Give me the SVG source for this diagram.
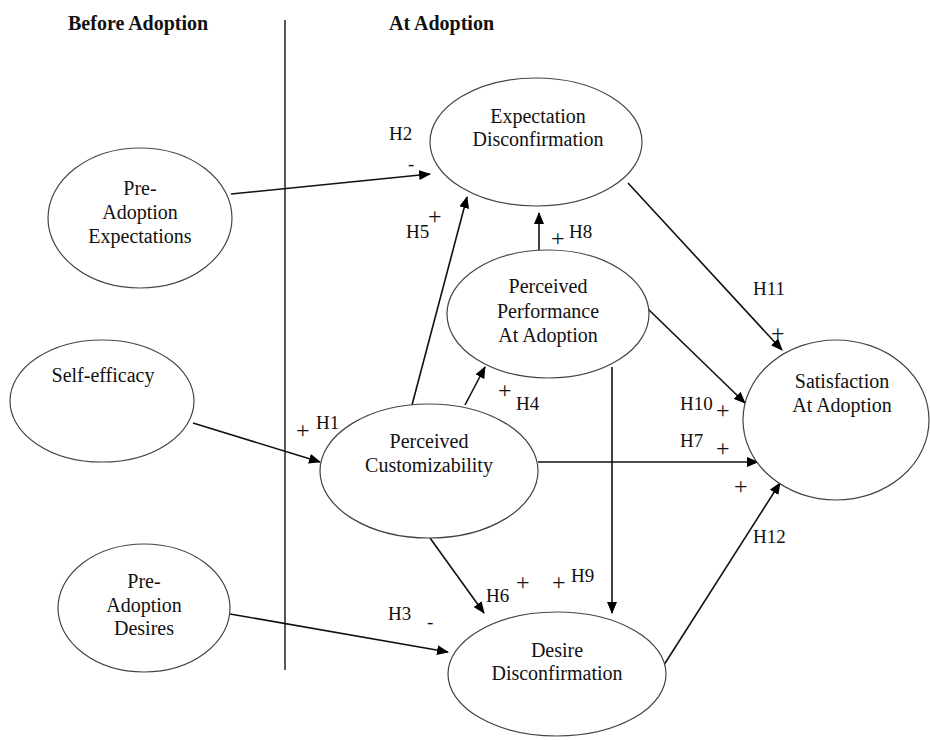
<svg xmlns="http://www.w3.org/2000/svg" width="930" height="740" viewBox="0 0 930 740">
<style>
text{font-family:"Liberation Serif","Times New Roman",serif;fill:#111}
.t{font-size:20px;text-anchor:middle}
.h{font-size:20px;font-weight:bold}
.l{font-size:19px}
.s{font-size:24px}
ellipse{fill:#fff;stroke:#444;stroke-width:1.2}
.c line{stroke:#111;stroke-width:1.6}
</style>
<defs>
<marker id="a" viewBox="0 0 12 10" refX="11" refY="5" markerWidth="12" markerHeight="10" markerUnits="userSpaceOnUse" orient="auto">
<path d="M0,0 L12,5 L0,10 Z" fill="#000"/>
</marker>
</defs>
<rect width="930" height="740" fill="#fff"/>
<text class="h" x="68" y="30">Before Adoption</text>
<text class="h" x="389" y="30">At Adoption</text>
<line x1="285" y1="20" x2="285" y2="670" stroke="#111" stroke-width="1.4"/>

<g class="c" id="connectors">
<line x1="231" y1="194" x2="430" y2="174" marker-end="url(#a)"/>
<line x1="193" y1="423" x2="320" y2="462" marker-end="url(#a)"/>
<line x1="230" y1="614" x2="448" y2="652" marker-end="url(#a)"/>
<line x1="412" y1="405" x2="467" y2="197" marker-end="url(#a)"/>
<line x1="539" y1="251" x2="539" y2="213" marker-end="url(#a)"/>
<line x1="465" y1="405" x2="485" y2="367" marker-end="url(#a)"/>
<line x1="538" y1="462" x2="758" y2="462" marker-end="url(#a)"/>
<line x1="612" y1="367" x2="612" y2="613" marker-end="url(#a)"/>
<line x1="430" y1="538" x2="484" y2="613" marker-end="url(#a)"/>
<line x1="628" y1="183" x2="782" y2="350" marker-end="url(#a)"/>
<line x1="647" y1="308" x2="745" y2="403" marker-end="url(#a)"/>
<line x1="648" y1="690" x2="780" y2="483" marker-end="url(#a)"/>
</g>

<g id="pre-expectations">
<ellipse cx="140" cy="218" rx="92" ry="70"/>
<text class="t" x="140" y="195">Pre-</text>
<text class="t" x="140" y="219">Adoption</text>
<text class="t" x="140" y="243">Expectations</text>
</g>
<g id="self-efficacy">
<ellipse cx="102" cy="401" rx="92" ry="61"/>
<text class="t" x="103" y="382">Self-efficacy</text>
</g>
<g id="pre-desires">
<ellipse cx="144" cy="608" rx="86" ry="64"/>
<text class="t" x="144" y="588">Pre-</text>
<text class="t" x="144" y="612">Adoption</text>
<text class="t" x="144" y="635">Desires</text>
</g>
<g id="expectation-disconfirmation">
<ellipse cx="536" cy="142" rx="106" ry="64"/>
<text class="t" x="538" y="123">Expectation</text>
<text class="t" x="538" y="146">Disconfirmation</text>
</g>
<g id="perceived-performance">
<ellipse cx="548" cy="314" rx="101" ry="64"/>
<text class="t" x="548" y="293">Perceived</text>
<text class="t" x="548" y="318">Performance</text>
<text class="t" x="548" y="342">At Adoption</text>
</g>
<g id="perceived-customizability">
<ellipse cx="429" cy="471" rx="109" ry="67"/>
<text class="t" x="429" y="448">Perceived</text>
<text class="t" x="429" y="472">Customizability</text>
</g>
<g id="satisfaction">
<ellipse cx="836" cy="420" rx="93" ry="80"/>
<text class="t" x="842" y="388">Satisfaction</text>
<text class="t" x="842" y="412">At Adoption</text>
</g>
<g id="desire-disconfirmation">
<ellipse cx="557" cy="674" rx="109" ry="62"/>
<text class="t" x="557" y="657">Desire</text>
<text class="t" x="557" y="680">Disconfirmation</text>
</g>

<g id="labels">
<text class="l" x="389" y="140">H2</text>
<text class="l" x="408" y="170">-</text>
<text class="l" x="406" y="238">H5</text>
<text class="s" x="428" y="224">+</text>
<text class="s" x="551" y="246">+</text>
<text class="l" x="569" y="238">H8</text>
<text class="s" x="296" y="438">+</text>
<text class="l" x="316" y="429">H1</text>
<text class="s" x="498" y="398">+</text>
<text class="l" x="516" y="410">H4</text>
<text class="l" x="753" y="295">H11</text>
<text class="s" x="771" y="341">+</text>
<text class="l" x="680" y="410">H10</text>
<text class="s" x="716" y="418">+</text>
<text class="l" x="680" y="447">H7</text>
<text class="s" x="716" y="456">+</text>
<text class="s" x="734" y="494">+</text>
<text class="l" x="753" y="543">H12</text>
<text class="l" x="486" y="602">H6</text>
<text class="s" x="516" y="590">+</text>
<text class="s" x="552" y="590">+</text>
<text class="l" x="571" y="582">H9</text>
<text class="l" x="388" y="620">H3</text>
<text class="l" x="427" y="628">-</text>
</g>
</svg>
